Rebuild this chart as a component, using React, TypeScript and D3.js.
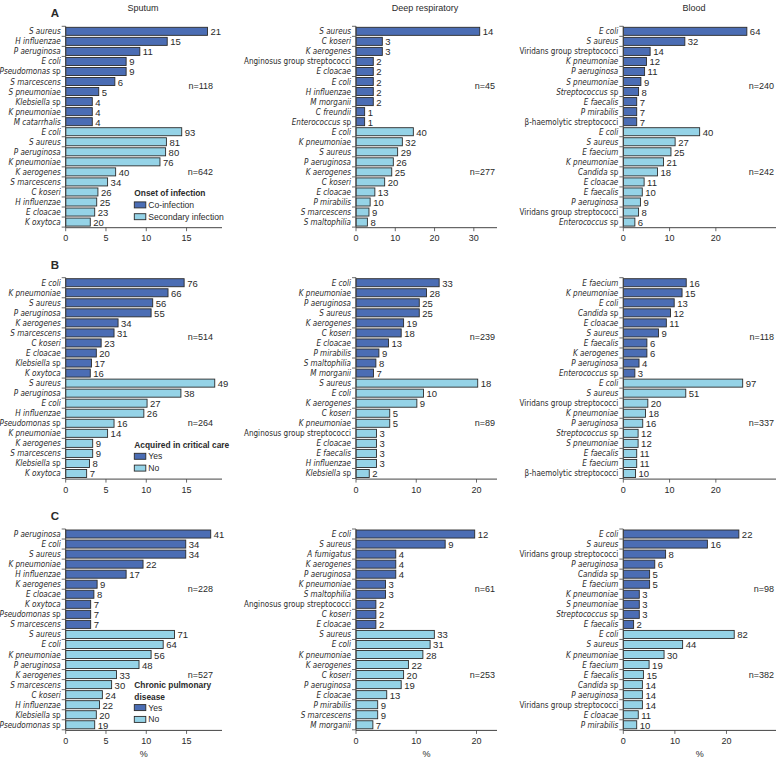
import React from 'react';
import * as d3 from 'd3';

// ---------- DATA (first 10 = dark group, last 10 = light group) ----------
const aSputumLabels = ["S aureus","H influenzae","P aeruginosa","E coli","Pseudomonas sp","S marcescens","S pneumoniae","Klebsiella sp","K pneumoniae","M catarrhalis","E coli","S aureus","P aeruginosa","K pneumoniae","K aerogenes","S marcescens","C koseri","H influenzae","E cloacae","K oxytoca"];
const aSputumCounts = [21,15,11,9,9,6,5,4,4,4,93,81,80,76,40,34,26,25,23,20];
const aSputumPct = [17.6,12.6,9.2,7.5,7.5,6.1,4.1,3.3,3.3,3.3,14.4,12.5,12.4,11.7,6.2,5.2,4.0,3.85,3.6,3.05];
const aSputumN = [118, 642];

const aDeepLabels = ["S aureus","C koseri","K aerogenes","Anginosus group streptococci","E cloacae","E coli","H influenzae","M morganii","C freundii","Enterococcus sp","E coli","K pneumoniae","S aureus","P aeruginosa","K aerogenes","C koseri","E cloacae","P mirabilis","S marcescens","S maltophilia"];
const aDeepCounts = [14,3,3,2,2,2,2,2,1,1,40,32,29,26,25,20,13,10,9,8];
const aDeepPct = [31.5,6.7,6.7,4.4,4.4,4.4,4.4,4.4,2.2,2.2,14.6,11.8,10.6,9.5,9.1,7.3,4.8,3.6,3.3,2.9];
const aDeepN = [45, 277];

const aBloodLabels = ["E coli","S aureus","Viridans group streptococci","K pneumoniae","P aeruginosa","S pneumoniae","Streptococcus sp","E faecalis","P mirabilis","β-haemolytic streptococci","E coli","S aureus","E faecium","K pneumoniae","Candida sp","E cloacae","E faecalis","P aeruginosa","Viridans group streptococci","Enterococcus sp"];
const aBloodCounts = [64,32,14,12,11,9,8,7,7,7,40,27,25,21,18,11,10,9,8,6];
const aBloodPct = [26.7,13.3,5.8,5.0,4.6,3.8,3.3,2.9,2.9,2.9,16.5,11.2,10.3,8.7,7.4,4.5,4.1,3.7,3.3,2.5];
const aBloodN = [240, 242];

const bSputumLabels = ["E coli","K pneumoniae","S aureus","P aeruginosa","K aerogenes","S marcescens","C koseri","E cloacae","Klebsiella sp","K oxytoca","S aureus","P aeruginosa","E coli","H influenzae","Pseudomonas sp","K pneumoniae","K aerogenes","S marcescens","Klebsiella sp","K oxytoca"];
const bSputumCounts = [76,66,56,55,34,31,23,20,17,16,49,38,27,26,16,14,9,9,8,7];
const bSputumPct = [14.7,12.7,10.8,10.6,6.5,6.0,4.4,3.8,3.2,3.05,18.5,14.3,10.1,9.7,6.0,5.2,3.35,3.35,2.95,2.6];
const bSputumN = [514, 264];

const bDeepLabels = ["E coli","K pneumoniae","P aeruginosa","S aureus","K aerogenes","C koseri","E cloacae","P mirabilis","S maltophilia","M morganii","S aureus","E coli","K aerogenes","C koseri","K pneumoniae","Anginosus group streptococci","E cloacae","E faecalis","H influenzae","Klebsiella sp"];
const bDeepCounts = [33,28,25,25,19,18,13,9,8,7,18,10,9,5,5,3,3,3,3,2];
const bDeepPct = [13.8,11.7,10.5,10.5,7.9,7.5,5.4,3.8,3.3,2.9,20.2,11.2,10.1,5.6,5.6,3.4,3.4,3.4,3.4,2.2];
const bDeepN = [239, 89];

const bBloodLabels = ["E faecium","K pneumoniae","E coli","Candida sp","E cloacae","S aureus","E faecalis","K aerogenes","P aeruginosa","Enterococcus sp","E coli","S aureus","Viridans group streptococci","K pneumoniae","P aeruginosa","Streptococcus sp","S pneumoniae","E faecalis","E faecium","β-haemolytic streptococci"];
const bBloodCounts = [16,15,13,12,11,9,6,6,4,3,97,51,20,18,16,12,12,11,11,10];
const bBloodPct = [13.6,12.7,11.0,10.2,9.3,7.6,5.1,5.1,3.4,2.5,25.8,13.5,5.3,4.8,4.2,3.2,3.2,2.9,2.9,2.65];
const bBloodN = [118, 337];

const cSputumLabels = ["P aeruginosa","E coli","S aureus","K pneumoniae","H influenzae","K aerogenes","E cloacae","K oxytoca","Pseudomonas sp","S marcescens","S aureus","E coli","K pneumoniae","P aeruginosa","K aerogenes","S marcescens","C koseri","H influenzae","Klebsiella sp","Pseudomonas sp"];
const cSputumCounts = [41,34,34,22,17,9,8,7,7,7,71,64,56,48,33,30,24,22,20,19];
const cSputumPct = [18.0,14.9,14.9,9.6,7.5,3.9,3.5,3.1,3.1,3.1,13.5,12.1,10.6,9.1,6.3,5.7,4.55,4.2,3.8,3.6];
const cSputumN = [228, 527];

const cDeepLabels = ["E coli","S aureus","A fumigatus","K aerogenes","P aeruginosa","K pneumoniae","S maltophilia","Anginosus group streptococci","C koseri","E cloacae","S aureus","E coli","K pneumoniae","K aerogenes","C koseri","P aeruginosa","E cloacae","P mirabilis","S marcescens","M morganii"];
const cDeepCounts = [12,9,4,4,4,3,3,2,2,2,33,31,28,22,20,19,13,9,9,7];
const cDeepPct = [19.7,14.8,6.6,6.6,6.6,4.9,4.9,3.3,3.3,3.3,13.0,12.3,11.1,8.7,7.9,7.5,5.1,3.6,3.6,2.8];
const cDeepN = [61, 253];

const cBloodLabels = ["E coli","S aureus","Viridans group streptococci","P aeruginosa","Candida sp","E faecium","K pneumoniae","S pneumoniae","Streptococcus sp","E faecalis","E coli","S aureus","K pneumoniae","E faecium","E faecalis","Candida sp","P aeruginosa","Viridans group streptococci","E cloacae","P mirabilis"];
const cBloodCounts = [22,16,8,6,5,5,3,3,3,2,82,44,30,19,15,14,14,14,11,10];
const cBloodPct = [22.4,16.3,8.2,6.1,5.1,5.1,3.1,3.1,3.1,2.0,21.5,11.5,7.9,5.0,3.9,3.7,3.7,3.7,2.9,2.6];
const cBloodN = [98, 382];

const columnTitles = ["Sputum", "Deep respiratory", "Blood"];
const panelLetters = ["A", "B", "C"];
const legendTitles = [["Onset of infection"], ["Acquired in critical care"], ["Chronic pulmonary", "disease"]];
const legendItems = [["Co-infection", "Secondary infection"], ["Yes", "No"], ["Yes", "No"]];
const axisMax = [[19.4, 35.9, 33], [19.4, 23.4, 33], [19.4, 23.4, 29.6]];
const axisTicks = [[[0,5,10,15],[0,10,20,30],[0,10,20]], [[0,5,10,15],[0,10,20],[0,10,20]], [[0,5,10,15],[0,10,20],[0,10,20]]];

const panels = [
  [[aSputumLabels, aSputumCounts, aSputumPct, aSputumN], [aDeepLabels, aDeepCounts, aDeepPct, aDeepN], [aBloodLabels, aBloodCounts, aBloodPct, aBloodN]],
  [[bSputumLabels, bSputumCounts, bSputumPct, bSputumN], [bDeepLabels, bDeepCounts, bDeepPct, bDeepN], [bBloodLabels, bBloodCounts, bBloodPct, bBloodN]],
  [[cSputumLabels, cSputumCounts, cSputumPct, cSputumN], [cDeepLabels, cDeepCounts, cDeepPct, cDeepN], [cBloodLabels, cBloodCounts, cBloodPct, cBloodN]],
];

// ---------- LAYOUT ----------
const W = 776, H = 758;
const COL_X = [[65.7, 222], [356, 497], [623.3, 776]];
const COL_N_X = [213, 495, 774];
const COL_TITLE_X = [143, 425, 694];
const ROW_TOP = [26.3, 277.7, 529];
const BAND_H = 200.8;
const DARK = "#4b6db4";
const LIGHT = "#95d3e7";
const STROKE = "#2b2b2b";
const INK = "#2a2a2a";
const LABEL_FONT = "'Liberation Sans Narrow', 'DejaVu Sans Condensed', 'Liberation Sans', sans-serif";
const FONT = "'Liberation Sans', Arial, sans-serif";

function Label({ text, x, y }: { text: string; x: number; y: number }) {
  let parts: { t: string; it: boolean }[];
  if (text.endsWith(" sp")) parts = [{ t: text.slice(0, -3), it: true }, { t: " sp", it: false }];
  else if (text.includes("streptococci")) parts = [{ t: text, it: false }];
  else parts = [{ t: text, it: true }];
  return (
    <text x={x} y={y} textAnchor="end" dominantBaseline="central" fontFamily={LABEL_FONT} fontSize={8.05} fill={INK}>
      {parts.map((p, i) => (
        <tspan key={i} fontStyle={p.it ? "italic" : "normal"}>{p.t}</tspan>
      ))}
    </text>
  );
}

function Panel({ r, c }: { r: number; c: number }) {
  const [labels, counts, pct, n] = panels[r][c] as [string[], number[], number[], number[]];
  const [x0, x1] = COL_X[c];
  const top = ROW_TOP[r];
  const axisY = top + BAND_H + 0.6;
  const x = d3.scaleLinear().domain([0, axisMax[r][c]]).range([x0, x1]);
  const y = d3.scaleBand<number>().domain(d3.range(labels.length)).range([top, top + BAND_H]).paddingInner(0.2).paddingOuter(0.1);
  const boundaries = d3.range(labels.length + 1).map(i => top + i * (BAND_H / labels.length));
  return (
    <g>
      {labels.map((lab, i) => {
        const yy = y(i)!;
        const bw = y.bandwidth();
        return (
          <g key={i}>
            <rect x={x(0)} y={yy} width={x(pct[i]) - x(0)} height={bw} fill={i < 10 ? DARK : LIGHT} stroke={STROKE} strokeWidth={0.9} />
            <text x={x(pct[i]) + 3} y={yy + bw / 2 + 0.5} dominantBaseline="central" fontFamily={FONT} fontSize={9.5} fill={INK}>{counts[i]}</text>
            <Label text={lab} x={x0 - 5} y={yy + bw / 2} />
          </g>
        );
      })}
      {boundaries.map((b, i) => (
        <line key={i} x1={x0 - 4} x2={x0} y1={b} y2={b} stroke="#444" strokeWidth={0.8} />
      ))}
      <line x1={x0} x2={x0} y1={top} y2={axisY} stroke="#444" strokeWidth={1} />
      <line x1={x0} x2={x1} y1={axisY} y2={axisY} stroke="#444" strokeWidth={1} />
      {axisTicks[r][c].map(t => (
        <g key={t}>
          <line x1={x(t)} x2={x(t)} y1={axisY} y2={axisY + 3.5} stroke="#444" strokeWidth={0.8} />
          <text x={x(t)} y={axisY + 10.5} textAnchor="middle" dominantBaseline="central" fontFamily={FONT} fontSize={9} fill={INK}>{t}</text>
        </g>
      ))}
      <text x={COL_N_X[c]} y={top + 59.7} textAnchor="end" dominantBaseline="central" fontFamily={FONT} fontSize={9} fill={INK}>{`n=${n[0]}`}</text>
      <text x={COL_N_X[c]} y={top + 145.7} textAnchor="end" dominantBaseline="central" fontFamily={FONT} fontSize={9} fill={INK}>{`n=${n[1]}`}</text>
      {r === 2 && (
        <text x={(x0 + x1) / 2} y={754} textAnchor="middle" dominantBaseline="central" fontFamily={FONT} fontSize={9} fill={INK}>%</text>
      )}
    </g>
  );
}

function Legend({ r }: { r: number }) {
  const top = ROW_TOP[r];
  const lx = 134.3;
  const titles = legendTitles[r];
  const titleY = titles.length === 1 ? [top + 167] : [top + 156, top + 167.7];
  const itemY = [top + 178.6, top + 190.4];
  return (
    <g>
      {titles.map((t, i) => (
        <text key={i} x={lx} y={titleY[i]} dominantBaseline="central" fontFamily={FONT} fontSize={8.4} fontWeight={700} fill={INK}>{t}</text>
      ))}
      {legendItems[r].map((t, i) => (
        <g key={i}>
          <rect x={lx} y={itemY[i] - 3} width={11.5} height={6} fill={i === 0 ? DARK : LIGHT} stroke={STROKE} strokeWidth={0.9} />
          <text x={lx + 14} y={itemY[i]} dominantBaseline="central" fontFamily={FONT} fontSize={8.6} fill={INK}>{t}</text>
        </g>
      ))}
    </g>
  );
}

export default function App() {
  return (
    <svg width={W} height={H} viewBox={`0 0 ${W} ${H}`} style={{ position: 'absolute', left: 0, top: 0, background: '#fff' }}>
      <rect width={W} height={H} fill="#fff" />
      {columnTitles.map((t, i) => (
        <text key={t} x={COL_TITLE_X[i]} y={8} textAnchor="middle" dominantBaseline="central" fontFamily={FONT} fontSize={9} fill={INK}>{t}</text>
      ))}
      {panelLetters.map((l, i) => (
        <text key={l} x={55} y={ROW_TOP[i] - 13} textAnchor="middle" dominantBaseline="central" fontFamily={FONT} fontSize={11.5} fontWeight={700} fill={INK}>{l}</text>
      ))}
      {[0, 1, 2].map(r => [0, 1, 2].map(c => <Panel key={`${r}-${c}`} r={r} c={c} />))}
      {[0, 1, 2].map(r => <Legend key={r} r={r} />)}
    </svg>
  );
}
